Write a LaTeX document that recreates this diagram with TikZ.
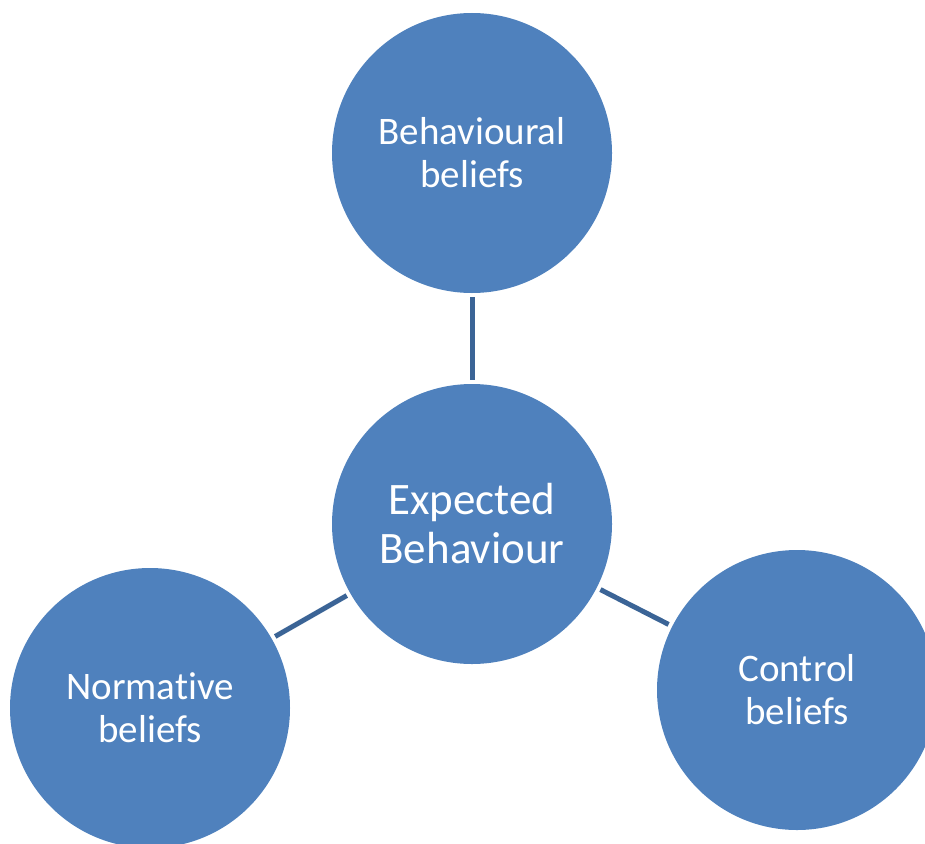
\documentclass[tikz,border=0pt]{standalone}
\usepackage{fontspec}
\setmainfont[Ligatures=CommonOff]{Carlito}
\definecolor{circfill}{HTML}{4F81BD}
\definecolor{linkcol}{HTML}{3B6496}
\begin{document}
\begin{tikzpicture}[x=1pt,y=-1pt,
  bubble/.style={circle,fill=circfill,minimum size=280pt,inner sep=0pt,text=white,align=center},
  smalltext/.style={font=\fontsize{39}{43}\selectfont},
  bigtext/.style={font=\fontsize{45}{49}\selectfont},
  link/.style={draw=linkcol,line width=5pt,shorten <=4pt,shorten >=4pt}]
\useasboundingbox (0,0) rectangle (925,843);
\clip (0,0) rectangle (925,843);
\node[bubble,smalltext] (top) at (472,153) {Behavioural\\beliefs};
\node[bubble,bigtext] (mid) at (472,524) {Expected\\Behaviour};
\node[bubble,smalltext] (left) at (150,708) {Normative\\beliefs};
\node[bubble,smalltext] (right) at (797,690) {Control\\beliefs};
\draw[link] (top) -- (mid);
\draw[link] (mid) -- (left);
\draw[link] (mid) -- (right);
\end{tikzpicture}
\end{document}
